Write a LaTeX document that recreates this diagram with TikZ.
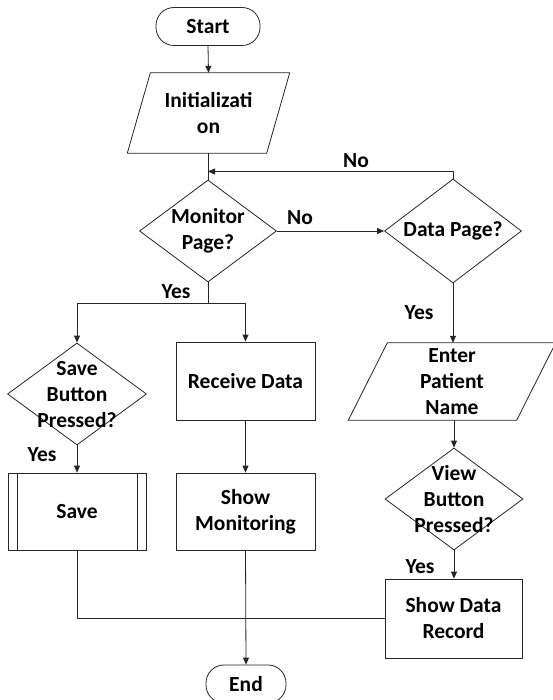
\documentclass[tikz,border=0pt]{standalone}
\usepackage{fontspec}
\setmainfont{Carlito}
\usetikzlibrary{shapes.geometric,arrows.meta,calc}
\begin{document}
\begin{tikzpicture}[x=1pt,y=-1pt,
  line/.style={draw=black!85,line width=0.8pt},
  arr/.style={line,-{Triangle[length=7pt,width=6pt]}},
  txt/.style={font=\fontsize{21.5}{26}\selectfont\bfseries,align=center,inner sep=0pt},
  term/.style={line,rounded corners=18pt,minimum height=38pt,inner sep=0pt,font=\fontsize{21.5}{26}\selectfont\bfseries},
  procbox/.style={line,rectangle,inner sep=0pt,font=\fontsize{21.5}{26}\selectfont\bfseries,align=center},
  dec/.style={line,diamond,inner sep=0pt,minimum width=138pt,minimum height=102pt},
  iobox/.style={rectangle,inner sep=0pt,font=\fontsize{21.5}{26}\selectfont\bfseries,align=center},
  lbl/.style={font=\fontsize{21.5}{26}\selectfont\bfseries,inner sep=0pt}]
\useasboundingbox (0,0) rectangle (553,700);

% terminals
\node[term,minimum width=104pt] (start) at (208,26.5) {Start};
\node[term,minimum width=80pt] (end) at (246,684) {End};

% initialization (parallelogram)
\node[iobox,minimum width=139pt,minimum height=80pt] (init) at (208.5,113) {Initializati\\on};
\draw[line] ($(init.north west)+(11.5,0)$) -- ($(init.north east)+(11.5,0)$)
  -- ($(init.south east)+(-11.5,0)$) -- ($(init.south west)+(-11.5,0)$) -- cycle;

% decisions
\node[dec,minimum width=137pt] (mp) at (208,231) {};
\node[txt] (mpt) at (mp) {Monitor\\Page?};
\node[dec,minimum width=137pt,minimum height=104pt] (dp) at (453,231) {};
\node[txt] (dpt) at (dp) {Data Page?};
\node[dec,minimum width=139pt] (sb) at (77,394) {};
\node[txt] (sbt) at (77,394.5) {Save\\Button\\Pressed?};
\node[dec] (vb) at (454,499) {};
\node[txt] (vbt) at (454,499.5) {View\\Button\\Pressed?};

% processes
\node[procbox,minimum width=139pt,minimum height=78pt] (rd) at (245.5,381) {Receive Data};
\node[procbox,minimum width=139pt,minimum height=77pt] (sm) at (245.5,511.5) {Show\\Monitoring};
\node[procbox,minimum width=138pt,minimum height=77pt] (save) at (77,511.5) {Save};
\draw[line] ($(save.north west)+(9.5,0)$) -- ($(save.south west)+(9.5,0)$);
\draw[line] ($(save.north east)+(-9.5,0)$) -- ($(save.south east)+(-9.5,0)$);
\node[procbox,minimum width=137pt,minimum height=79pt] (sdr) at (453.5,618.5) {Show Data\\Record};

% enter patient name (parallelogram)
\node[iobox,minimum width=168pt,minimum height=77pt] (epn) at (452,381.5) {Enter\\Patient\\Name};
\draw[line] ($(epn.north west)+(19.5,0)$) -- ($(epn.north east)+(19.5,0)$)
  -- ($(epn.south east)+(-19.5,0)$) -- ($(epn.south west)+(-19.5,0)$) -- cycle;

% coordinates
\coordinate (join) at (208,171.5);
\coordinate (split) at (208,303);
\coordinate (merge) at (246,618.5);

% connectors
\draw[arr] (start.south) -- (init.south |- init.north);
\draw[line] (208,153) -- (mp.north);
\draw[arr] (dp.north) |- (join);
\draw[arr] (mp.east) -- (dp.west);
\draw[line] (mp.south) -- (split);
\draw[arr] (split) -| (sb.north);
\draw[arr] (split) -| (rd.north);
\draw[arr] (sb.south) -- (save.north);
\draw[arr] (rd.south) -- (sm.north);
\draw[arr] (dp.south) -- (epn.north -| dp.south);
\draw[arr] (epn.south -| vb.north) -- (vb.north);
\draw[arr] (vb.south) -- (sdr.north -| vb.south);
\draw[line] (save.south) |- (merge);
\draw[line] (sdr.west) -- (merge);
\draw[arr] (sm.south) -- (end.north);

% labels
\node[lbl] (l1) at (356,161) {No};
\node[lbl] (l2) at (300,218) {No};
\node[lbl] (l3) at (176,292) {Yes};
\node[lbl] (l4) at (419,313) {Yes};
\node[lbl] (l5) at (42,455) {Yes};
\node[lbl] (l6) at (420,567) {Yes};
\end{tikzpicture}
\end{document}
